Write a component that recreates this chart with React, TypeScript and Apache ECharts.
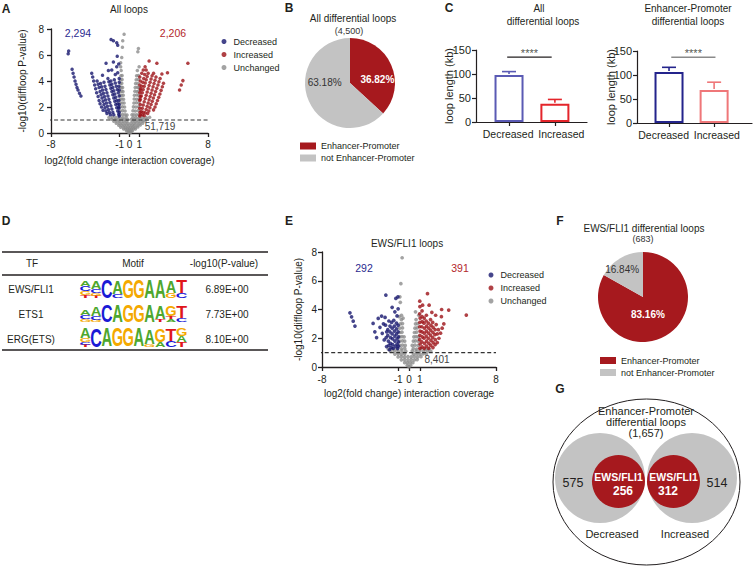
import React, { useEffect, useRef } from "react";
import * as echarts from "echarts";

const FONT = "'Liberation Sans', Arial, Helvetica, sans-serif";
const INK = "#231f20";
const NAVY = "#16166e";
const CRIMSON = "#9c1216";
const DOT_GRAY = "#8c8c8c";
const PIE_RED = "#a6191e";
const PIE_GRAY = "#c3c3c3";
const LOGO_COLORS: Record<string, string> = { A: "#4ea72e", C: "#1a1ad6", G: "#f4a900", T: "#e0161b" };
const LOGO_INK_W: Record<string, number> = { A: 0.7, C: 0.64, G: 0.7, T: 0.58 };

// ---------- shared ----------
const STATUS = ["Decreased", "Increased", "Unchanged"];
const VOLCANO_TICKS = [-8, -1, 0, 1, 8];
const P_THRESHOLD = 1;

// ---------- Panel A: all loops ----------
const A_COUNTS = ["2,294", "2,206", "51,719"];
const A_DECREASED: number[][] = [
  [-6.2, 6.3], [-6.25, 6.1],
  [-5.85, 4.9], [-5.75, 4.6], [-5.65, 4.3], [-5.55, 4.0], [-5.45, 3.75], [-5.35, 3.5], [-5.25, 3.3], [-5.1, 3.05], [-4.95, 2.85],
  [-3.85, 4.6], [-3.75, 4.3], [-3.65, 4.0], [-3.55, 3.7], [-3.45, 3.4], [-3.35, 3.1], [-3.2, 2.8], [-3.1, 2.5], [-3.0, 2.25], [-2.85, 2.0], [-2.7, 1.75],
  [-3.3, 4.0], [-3.2, 3.75], [-3.1, 3.5], [-3.0, 3.2], [-2.9, 2.95], [-2.8, 2.7], [-2.7, 2.45], [-2.6, 2.2], [-2.5, 1.95], [-2.4, 1.7], [-2.3, 1.5],
  [-2.95, 3.8], [-2.85, 3.55], [-2.75, 3.3], [-2.65, 3.05], [-2.55, 2.8], [-2.45, 2.55], [-2.35, 2.3], [-2.25, 2.05], [-2.15, 1.8], [-2.05, 1.6], [-1.95, 1.4],
  [-2.6, 3.9], [-2.5, 3.6], [-2.4, 3.35], [-2.3, 3.1], [-2.2, 2.85], [-2.1, 2.6], [-2.0, 2.35], [-1.9, 2.1], [-1.8, 1.85], [-1.7, 1.6], [-1.6, 1.4],
  [-2.2, 4.2], [-2.1, 3.95], [-2.0, 3.7], [-1.9, 3.45], [-1.8, 3.2], [-1.7, 2.95], [-1.6, 2.7], [-1.5, 2.45], [-1.4, 2.2], [-1.3, 1.95], [-1.2, 1.7], [-1.1, 1.45],
  [-1.9, 4.0], [-1.8, 3.75], [-1.7, 3.5], [-1.6, 3.25], [-1.5, 3.0], [-1.4, 2.75], [-1.3, 2.5], [-1.2, 2.25], [-1.1, 2.0],
  [-1.55, 4.1], [-1.45, 3.85], [-1.35, 3.6], [-1.25, 3.35], [-1.15, 3.1], [-1.05, 2.85],
  [-1.05, 1.3], [-1.05, 1.6], [-1.08, 1.9], [-1.05, 2.2], [-1.08, 2.5], [-1.05, 3.3], [-1.08, 3.6], [-1.05, 3.9], [-1.05, 4.2],
  [-1.88, 7.2], [-1.64, 7.1], [-1.3, 6.95], [-1.2, 6.75], [-2.39, 5.36], [-1.64, 5.46], [-1.3, 5.1], [-1.81, 4.85], [-1.2, 4.64],
  [-2.15, 4.8], [-2.75, 4.45], [-1.45, 4.5], [-1.1, 5.3], [-1.25, 5.9],
];
const A_INCREASED: number[][] = [
  [5.95, 5.36], [5.44, 4.03], [5.27, 3.69], [5.1, 3.3],
  [3.87, 4.64], [3.3, 4.54], [2.79, 5.36], [2.0, 5.54], [1.59, 5.1], [1.4, 4.85], [1.25, 4.6], [2.45, 4.6], [1.7, 4.85],
  [3.46, 3.82], [3.35, 3.55], [3.22, 3.28], [3.1, 3.0], [2.98, 2.75], [2.85, 2.5], [2.72, 2.25], [2.6, 2.0], [2.45, 1.78],
  [3.12, 4.2], [3.0, 3.95], [2.9, 3.7], [2.78, 3.45], [2.66, 3.2], [2.55, 2.95], [2.43, 2.7], [2.32, 2.45], [2.2, 2.2], [2.08, 1.95], [1.97, 1.7], [1.85, 1.5],
  [2.7, 4.3], [2.6, 4.05], [2.5, 3.8], [2.4, 3.55], [2.3, 3.3], [2.2, 3.05], [2.1, 2.8], [2.0, 2.55], [1.9, 2.3], [1.8, 2.05], [1.7, 1.8], [1.6, 1.55], [1.5, 1.35],
  [2.3, 4.4], [2.2, 4.15], [2.1, 3.9], [2.0, 3.65], [1.9, 3.4], [1.8, 3.15], [1.7, 2.9], [1.6, 2.65], [1.5, 2.4], [1.4, 2.15], [1.3, 1.9], [1.2, 1.65], [1.1, 1.4],
  [1.9, 4.6], [1.8, 4.35], [1.7, 4.1], [1.6, 3.85], [1.5, 3.6], [1.4, 3.35], [1.3, 3.1], [1.2, 2.85], [1.1, 2.6],
  [1.55, 4.5], [1.45, 4.2], [1.35, 3.9], [1.25, 3.6], [1.15, 3.3], [1.3, 1.4], [1.4, 1.6],
  [1.05, 1.3], [1.08, 1.6], [1.05, 1.9], [1.1, 2.2], [1.05, 2.5], [1.1, 2.8], [1.05, 3.1], [1.1, 3.4], [1.05, 3.7], [1.1, 4.0], [1.05, 4.3],
];
const A_UNCHANGED: number[][] = [
  [-0.1, 0.05], [0.05, 0.03], [0.15, 0.08],
  [-0.3, 0.15], [-0.15, 0.15], [0, 0.18], [0.15, 0.15], [0.3, 0.17],
  [-0.6, 0.3], [-0.4, 0.3], [-0.2, 0.32], [0, 0.3], [0.2, 0.3], [0.4, 0.32], [0.6, 0.3],
  [-0.9, 0.45], [-0.65, 0.47], [-0.4, 0.45], [-0.15, 0.46], [0.1, 0.45], [0.35, 0.47], [0.6, 0.45], [0.85, 0.46],
  [-1.1, 0.6], [-0.85, 0.62], [-0.55, 0.6], [-0.3, 0.62], [0, 0.6], [0.3, 0.6], [0.55, 0.62], [0.85, 0.6], [1.1, 0.62],
  [-1.35, 0.75], [-1.05, 0.76], [-0.75, 0.75], [-0.45, 0.77], [-0.15, 0.75], [0.15, 0.76], [0.45, 0.75], [0.75, 0.77], [1.05, 0.75], [1.35, 0.76],
  [-1.6, 0.9], [-1.3, 0.92], [-1.0, 0.9], [-0.65, 0.91], [-0.3, 0.9], [0.3, 0.92], [0.6, 0.9], [0.95, 0.91], [1.3, 0.9], [1.6, 0.92],
  [-1.85, 1.05], [-1.5, 1.06], [-1.15, 1.05], [-0.8, 1.07], [-0.5, 1.05], [-0.2, 1.06], [0.2, 1.05], [0.5, 1.06], [0.8, 1.05], [1.15, 1.07], [1.5, 1.05], [1.8, 1.06],
  [-2.1, 1.2], [-1.75, 1.22], [-1.4, 1.2], [-1.05, 1.21], [-0.7, 1.2], [-0.35, 1.22], [0.35, 1.2], [0.65, 1.21], [1.0, 1.2], [1.35, 1.22], [1.7, 1.2], [2.05, 1.21],
  [-0.95, 1.4], [-0.7, 1.42], [-0.45, 1.4], [-0.25, 1.38], [0.25, 1.4], [0.45, 1.41], [0.7, 1.4], [0.95, 1.42],
  [-0.95, 1.7], [-0.7, 1.72], [-0.45, 1.7], [0.35, 1.71], [0.6, 1.7], [0.9, 1.72],
  [-0.95, 2.0], [-0.72, 2.02], [-0.5, 2.0], [0.4, 2.01], [0.65, 2.0], [0.92, 2.02],
  [-0.95, 2.3], [-0.75, 2.31], [-0.55, 2.3], [0.45, 2.3], [0.7, 2.32], [0.95, 2.3],
  [-0.95, 2.6], [-0.78, 2.62], [-0.6, 2.6], [0.48, 2.61], [0.72, 2.6], [0.95, 2.62],
  [-0.95, 2.9], [-0.8, 2.91], [-0.63, 2.9], [0.5, 2.9], [0.75, 2.92], [0.95, 2.9],
  [-0.95, 3.2], [-0.8, 3.22], [-0.66, 3.2], [0.55, 3.21], [0.78, 3.2], [0.95, 3.22],
  [-0.95, 3.5], [-0.82, 3.51], [-0.7, 3.5], [0.58, 3.5], [0.8, 3.52], [0.95, 3.5],
  [-0.92, 3.8], [-0.78, 3.82], [0.62, 3.8], [0.85, 3.81],
  [-0.9, 4.1], [-0.75, 4.12], [0.68, 4.1], [0.9, 4.11],
  [-0.88, 4.4], [-0.75, 4.42], [0.72, 4.4], [0.92, 4.42],
  [-0.85, 4.8], [0.8, 4.8], [-0.9, 5.1], [0.98, 5.1],
  [-0.9, 5.4], [-0.79, 5.8], [-0.72, 6.6], [-0.69, 7.1], [-0.55, 7.6], [0.91, 6.5], [0.85, 6.25],
];

// ---------- Panel E: EWS/FLI1 loops ----------
const E_COUNTS = ["292", "391", "8,401"];
const E_DECREASED: number[][] = [
  [-5.43, 3.77], [-5.28, 3.49], [-5.13, 3.19], [-4.97, 2.85],
  [-2.13, 5.0], [-1.21, 4.77], [-1.02, 4.88], [-1.0, 4.05], [-1.3, 3.84], [-1.55, 4.15], [-1.1, 3.55],
  [-3.3, 3.03], [-3.14, 2.45], [-2.98, 2.05], [-2.83, 3.38], [-2.52, 3.54], [-2.67, 2.76], [-2.46, 2.34], [-2.28, 1.88],
  [-2.16, 2.91], [-2.06, 1.42], [-2.35, 3.0], [-2.2, 3.45],
  [-1.95, 2.6], [-1.95, 2.2], [-1.9, 1.8], [-1.85, 1.5],
  [-1.75, 2.85], [-1.75, 2.45], [-1.7, 2.05], [-1.7, 1.65], [-1.65, 1.35],
  [-1.55, 2.7], [-1.55, 2.3], [-1.5, 1.95], [-1.5, 1.55], [-1.45, 1.3],
  [-1.35, 2.85], [-1.35, 2.5], [-1.3, 2.15], [-1.3, 1.8], [-1.25, 1.45],
  [-1.15, 2.65], [-1.15, 2.3], [-1.1, 1.95], [-1.1, 1.6], [-1.05, 1.3],
  [-1.0, 2.9], [-1.0, 2.45], [-0.97, 2.1], [-0.97, 1.75], [-0.97, 1.45],
  [-1.85, 3.2], [-1.6, 3.1], [-1.4, 3.25], [-1.15, 3.05], [-2.05, 2.45], [-2.1, 2.05], [-1.8, 1.2],
];
const E_INCREASED: number[][] = [
  [5.27, 3.61], [3.65, 3.96], [3.0, 4.0], [1.7, 5.1], [1.85, 4.3], [0.99, 4.58], [1.25, 4.3], [1.0, 4.2], [2.1, 3.8], [2.45, 3.6],
  [2.98, 3.5], [3.2, 3.0], [3.05, 2.7], [2.9, 2.35], [2.75, 2.0], [2.6, 1.7],
  [1.0, 1.3], [1.02, 1.6], [0.98, 1.9], [1.0, 2.2], [1.02, 2.5], [0.98, 2.8], [1.0, 3.1], [1.02, 3.4], [0.98, 3.7],
  [1.2, 1.4], [1.18, 1.75], [1.22, 2.1], [1.2, 2.45], [1.18, 2.8], [1.22, 3.15], [1.2, 3.5], [1.2, 3.9],
  [1.4, 1.3], [1.42, 1.65], [1.38, 2.0], [1.4, 2.35], [1.42, 2.7], [1.38, 3.05], [1.4, 3.4],
  [1.6, 1.45], [1.62, 1.8], [1.58, 2.15], [1.6, 2.5], [1.62, 2.85], [1.58, 3.2], [1.6, 3.6],
  [1.8, 1.3], [1.82, 1.65], [1.78, 2.0], [1.8, 2.35], [1.82, 2.7], [1.78, 3.05],
  [2.0, 1.5], [2.02, 1.85], [1.98, 2.2], [2.0, 2.55], [2.02, 2.9], [1.98, 3.3],
  [2.2, 1.35], [2.22, 1.7], [2.18, 2.05], [2.2, 2.4], [2.22, 2.75], [2.18, 3.1],
  [2.4, 1.55], [2.42, 1.9], [2.38, 2.25], [2.4, 2.6], [2.5, 2.95], [2.6, 2.3], [2.7, 2.6],
];
const E_UNCHANGED: number[][] = [
  [0, 0.03], [-0.15, 0.12], [0.15, 0.12],
  [-0.4, 0.3], [-0.15, 0.3], [0.1, 0.32], [0.35, 0.3],
  [-0.7, 0.5], [-0.4, 0.52], [-0.1, 0.5], [0.2, 0.52], [0.5, 0.5], [0.75, 0.52],
  [-1.0, 0.7], [-0.7, 0.72], [-0.4, 0.7], [-0.1, 0.72], [0.2, 0.7], [0.5, 0.72], [0.8, 0.7], [1.1, 0.72],
  [-1.3, 0.9], [-1.0, 0.92], [-0.7, 0.9], [-0.4, 0.92], [0.4, 0.9], [0.7, 0.92], [1.0, 0.9], [1.3, 0.92], [1.6, 0.9],
  [-1.7, 1.1], [-1.35, 1.12], [-1.0, 1.1], [-0.65, 1.12], [-0.3, 1.1], [0.3, 1.12], [0.65, 1.1], [1.0, 1.12], [1.35, 1.1], [1.7, 1.12], [2.0, 1.1],
  [-1.9, 1.25], [-1.5, 1.27], [-1.1, 1.25], [-0.7, 1.27], [-0.4, 1.3], [0.4, 1.28], [0.7, 1.25], [1.1, 1.27], [1.5, 1.25], [1.85, 1.27],
  [-0.85, 1.5], [-0.6, 1.52], [-0.35, 1.5], [0.3, 1.5], [0.55, 1.52], [0.85, 1.5],
  [-0.85, 1.8], [-0.6, 1.82], [-0.4, 1.8], [0.4, 1.8], [0.6, 1.82], [0.85, 1.8],
  [-0.85, 2.1], [-0.65, 2.12], [-0.45, 2.1], [0.45, 2.1], [0.65, 2.12], [0.85, 2.1],
  [-0.85, 2.4], [-0.65, 2.42], [0.5, 2.4], [0.7, 2.42],
  [-0.85, 2.7], [-0.6, 2.72], [0.55, 2.7], [0.75, 2.72],
  [-0.8, 3.0], [-0.6, 3.02], [0.6, 3.0], [0.8, 3.02],
  [-0.7, 3.3], [-0.55, 3.4], [0.65, 3.3], [0.6, 3.84],
  [-0.69, 3.6], [-0.84, 4.88], [-0.75, 5.8], [-0.63, 7.6], [-0.8, 4.5], [0.9, 3.6], [-0.9, 3.5],
];

// ---------- Panels B & F: pies ----------
const EP_NAMES = ["Enhancer-Promoter", "not Enhancer-Promoter"];
const B_VALUES = [1657, 2843];
const F_VALUES = [568, 115];
const B_TOTAL = "(4,500)";
const F_TOTAL = "(683)";

// ---------- Panel C: loop length bars ----------
const C_CATEGORIES = ["Decreased", "Increased"];
const C_ALL_MEAN = [98, 38];
const C_ALL_ERR = [7, 9];
const C_EP_MEAN = [106, 69];
const C_EP_ERR = [10, 16];
const C_SIG = "****";

// ---------- Panel D: motif table ----------
const TABLE_HEADER = ["TF", "Motif", "-log10(P-value)"];
const TF_NAMES = ["EWS/FLI1", "ETS1", "ERG(ETS)"];
const TF_PVALUES = ["6.89E+00", "7.73E+00", "8.10E+00"];
// each column lists letters top to bottom with their stack height (px)
const MOTIFS: [string, number][][][] = [
  [
    [["A", 5], ["C", 5], ["G", 4], ["T", 3]],
    [["A", 8], ["C", 4], ["G", 3], ["T", 2]],
    [["C", 18]],
    [["A", 13], ["C", 4]],
    [["G", 18]],
    [["G", 18]],
    [["A", 18]],
    [["A", 18]],
    [["A", 12], ["G", 5]],
    [["T", 13], ["C", 5]],
  ],
  [
    [["A", 5], ["C", 4], ["G", 3]],
    [["A", 9], ["C", 4], ["G", 2]],
    [["C", 17]],
    [["A", 17]],
    [["G", 17]],
    [["G", 17]],
    [["A", 17]],
    [["A", 13], ["T", 3]],
    [["G", 11], ["T", 3], ["A", 3]],
    [["T", 12], ["C", 4]],
  ],
  [
    [["A", 10], ["G", 4], ["C", 3], ["T", 2]],
    [["C", 19]],
    [["A", 19]],
    [["G", 19]],
    [["G", 19]],
    [["A", 19]],
    [["A", 15], ["G", 2]],
    [["G", 13], ["A", 5]],
    [["T", 12], ["C", 6]],
    [["G", 8], ["A", 6], ["T", 5]],
  ],
];

// ---------- Panel G: Venn ----------
const VENN_TITLE = ["Enhancer-Promoter", "differential loops", "(1,657)"];
const VENN_ONLY = [575, 514];
const VENN_EWS = [256, 312];
const VENN_LABEL = "EWS/FLI1";

function txt(text: string, x: number, y: number, o: any = {}) {
  return {
    type: "text",
    x,
    y,
    silent: true,
    z: 10,
    style: {
      text,
      fill: o.fill || INK,
      fontFamily: FONT,
      fontSize: o.size || 10,
      fontWeight: o.weight || "normal",
      align: o.align || "center",
      verticalAlign: "middle",
    },
  };
}

function hline(x1: number, x2: number, y: number, w: number) {
  return { type: "line", silent: true, shape: { x1, y1: y, x2, y2: y }, style: { stroke: INK, lineWidth: w } };
}

function logoElements(motif: [string, number][][], x0: number, baseline: number, colW: number) {
  const els: any[] = [];
  motif.forEach((col, i) => {
    let yb = baseline;
    for (let k = col.length - 1; k >= 0; k--) {
      const [letter, h] = col[k];
      els.push({
        type: "text",
        silent: true,
        x: x0 + (i + 0.5) * colW,
        y: yb - h / 2,
        scaleX: (colW * 0.96) / (LOGO_INK_W[letter] * 20),
        scaleY: h / (0.716 * 20),
        style: {
          text: letter,
          fill: LOGO_COLORS[letter],
          fontFamily: FONT,
          fontSize: 20,
          fontWeight: "bold",
          align: "center",
          verticalAlign: "middle",
        },
      });
      yb -= h;
    }
  });
  return els;
}

const axisText = { color: INK, fontFamily: FONT };

function volcanoAxes(gi: number, xName: string, yName: string, labelMargins: number[], nameGaps: number[]) {
  const line = { show: true, onZero: false, lineStyle: { color: INK, width: 1.3 } };
  const tick = { show: true, inside: false, length: 4, lineStyle: { color: INK, width: 1.3 } };
  return {
    x: {
      gridIndex: gi,
      type: "value",
      min: -8,
      max: 8,
      axisLine: line,
      axisTick: { ...tick, customValues: VOLCANO_TICKS },
      axisLabel: { ...axisText, fontSize: 10, margin: labelMargins[0], customValues: VOLCANO_TICKS, showMinLabel: true, showMaxLabel: true, hideOverlap: false },
      splitLine: { show: false },
      name: xName,
      nameLocation: "middle",
      nameGap: nameGaps[0],
      nameMoveOverlap: false,
      nameTextStyle: { ...axisText, fontSize: 10 },
    },
    y: {
      gridIndex: gi,
      type: "value",
      min: 0,
      max: 8,
      interval: 2,
      axisLine: line,
      axisTick: tick,
      axisLabel: { ...axisText, fontSize: 10, margin: labelMargins[1], showMinLabel: true, showMaxLabel: true },
      splitLine: { show: false },
      name: yName,
      nameLocation: "middle",
      nameGap: nameGaps[1],
      nameMoveOverlap: false,
      nameTextStyle: { ...axisText, fontSize: 10 },
    },
  };
}

// labelAt: where each category name sits along the axis (category units)
function barAxes(gi: number, min: number, max: number, nameGap: number, labelAt: number[]) {
  const line = { show: true, onZero: false, lineStyle: { color: INK, width: 1.2 } };
  const tick = { show: true, inside: false, length: 4, lineStyle: { color: INK, width: 1.2 } };
  return {
    x: {
      gridIndex: gi,
      type: "value",
      min,
      max,
      axisLine: line,
      axisTick: { ...tick, customValues: [1, 2] },
      axisLabel: {
        ...axisText,
        fontSize: 10.5,
        margin: 6,
        customValues: labelAt,
        showMinLabel: true,
        showMaxLabel: true,
        hideOverlap: false,
        formatter: (v: any) => C_CATEGORIES[Math.round(Number(v)) - 1] || "",
      },
      splitLine: { show: false },
    },
    y: {
      gridIndex: gi,
      type: "value",
      min: 0,
      max: 150,
      interval: 50,
      axisLine: line,
      axisTick: tick,
      axisLabel: { ...axisText, fontSize: 11, margin: 5, showMinLabel: true, showMaxLabel: true },
      splitLine: { show: false },
      name: "loop length (kb)",
      nameLocation: "middle",
      nameGap,
      nameMoveOverlap: false,
      nameTextStyle: { ...axisText, fontSize: 11 },
    },
  };
}

function volcanoSeries(axis: number, gray: number[][], blue: number[][], red: number[][], size: number) {
  const base = { type: "scatter", xAxisIndex: axis, yAxisIndex: axis, symbolSize: size, silent: true };
  return [
    { ...base, name: STATUS[2], data: gray, itemStyle: { color: DOT_GRAY } },
    { ...base, name: STATUS[0], data: blue, itemStyle: { color: NAVY } },
    { ...base, name: STATUS[1], data: red, itemStyle: { color: CRIMSON } },
    {
      type: "line",
      xAxisIndex: axis,
      yAxisIndex: axis,
      data: [[-8.35, P_THRESHOLD], [8, P_THRESHOLD]],
      showSymbol: false,
      symbol: "none",
      clip: false,
      silent: true,
      z: 5,
      lineStyle: { color: "#333", width: 1.2, type: [4, 2.5] },
    },
  ];
}

function barSeries(axis: number, mean: number[], err: number[], borders: string[], sigY: number, sigX: number[], sigColor: string) {
  return [
    {
      type: "bar",
      xAxisIndex: axis,
      yAxisIndex: axis,
      barWidth: 29,
      silent: true,
      data: mean.map((m, i) => ({ value: [i + 1, m], itemStyle: { color: "#fff", borderColor: borders[i], borderWidth: 2 } })),
    },
    {
      type: "custom",
      xAxisIndex: axis,
      yAxisIndex: axis,
      silent: true,
      z: 3,
      data: mean.map((m, i) => [i + 1, m, err[i]]),
      renderItem: (params: any, api: any) => {
        const x = api.value(0);
        const m = api.value(1);
        const e = api.value(2);
        const base = api.coord([x, m]);
        const top = api.coord([x, m + e]);
        const color = borders[params.dataIndex];
        return {
          type: "group",
          children: [
            { type: "line", shape: { x1: base[0], y1: base[1] - 1, x2: top[0], y2: top[1] }, style: { stroke: color, lineWidth: 1.6 } },
            { type: "line", shape: { x1: top[0] - 7, y1: top[1], x2: top[0] + 7, y2: top[1] }, style: { stroke: color, lineWidth: 1.6 } },
          ],
        };
      },
    },
    {
      type: "line",
      xAxisIndex: axis,
      yAxisIndex: axis,
      data: [[sigX[0], sigY], [sigX[1], sigY]],
      symbol: "none",
      showSymbol: false,
      silent: true,
      lineStyle: { color: sigColor, width: 1.3 },
    },
    {
      type: "scatter",
      xAxisIndex: axis,
      yAxisIndex: axis,
      symbolSize: 0,
      silent: true,
      data: [[(sigX[0] + sigX[1]) / 2, sigY]],
      label: { show: true, position: "top", distance: -1, formatter: C_SIG, ...axisText, fontSize: 11 },
    },
  ];
}

function pieSeries(center: number[], values: number[], shifts: number[][]) {
  return {
    type: "pie",
    center,
    radius: 45,
    startAngle: 90,
    clockwise: true,
    silent: true,
    percentPrecision: 2,
    labelLine: { show: false },
    label: { show: true, position: "inside", formatter: "{d}%", fontFamily: FONT, fontSize: 10 },
    labelLayout: (p: any) => ({ dx: shifts[p.dataIndex][0], dy: shifts[p.dataIndex][1] }),
    data: values.map((v, i) => ({
      name: EP_NAMES[i],
      value: v,
      itemStyle: { color: i === 0 ? PIE_RED : PIE_GRAY },
      label: i === 0 ? { color: "#fff", fontWeight: "bold" } : { color: "#333" },
    })),
  };
}

function buildOption() {
  const a = volcanoAxes(0, "log2(fold change interaction coverage)", "-log10(diffloop P-value)", [6, 7], [22, 24]);
  const e = volcanoAxes(3, "log2(fold change) interaction coverage", "-log10(diffloop P-value)", [7, 5], [21, 19]);
  const c1 = barAxes(1, 0.28, 2.7, 22, [0.98, 2.14]);
  const c2 = barAxes(2, 0.29, 2.84, 21, [0.88, 2.06]);

  const scatterLegend = (left: number, top: number) => ({
    left,
    top,
    orient: "vertical",
    icon: "circle",
    itemWidth: 9,
    itemHeight: 5,
    itemGap: 2,
    selectedMode: false,
    data: STATUS,
    textStyle: { ...axisText, fontSize: 9, lineHeight: 11 },
  });
  const pieLegend = (left: number, top: number) => ({
    left,
    top,
    orient: "vertical",
    icon: "rect",
    itemWidth: 16,
    itemHeight: 7,
    itemGap: 1,
    selectedMode: false,
    data: EP_NAMES,
    textStyle: { ...axisText, fontSize: 9, lineHeight: 11 },
  });

  const graphics: any[] = [
    // panel letters
    txt("A", 6, 9, { size: 12, weight: "bold" }),
    txt("B", 289, 7.5, { size: 12, weight: "bold" }),
    txt("C", 449, 7.5, { size: 12, weight: "bold" }),
    txt("D", 6, 221, { size: 12, weight: "bold" }),
    txt("E", 289, 221, { size: 12, weight: "bold" }),
    txt("F", 560, 221, { size: 12, weight: "bold" }),
    txt("G", 560, 389, { size: 12, weight: "bold" }),
    // A
    txt("All loops", 129, 9),
    txt(A_COUNTS[0], 78, 33, { fill: "#2b2b8f", size: 10.5 }),
    txt(A_COUNTS[1], 173, 33, { fill: "#b3262a", size: 10.5 }),
    txt(A_COUNTS[2], 160, 126, { fill: "#444" }),
    // B
    txt("All differential loops", 353, 18),
    txt(B_TOTAL, 349, 31, { size: 9, fill: "#333" }),
    // C
    txt("All", 539, 8),
    txt("differential loops", 543, 21),
    txt("Enhancer-Promoter", 688, 8),
    txt("differential loops", 688, 21),
    // E
    txt("EWS/FLI1 loops", 407, 243),
    txt(E_COUNTS[0], 364, 268, { fill: "#2b2b8f", size: 10.5 }),
    txt(E_COUNTS[1], 460, 268, { fill: "#b3262a", size: 10.5 }),
    txt(E_COUNTS[2], 437, 359, { fill: "#444" }),
    // F
    txt("EWS/FLI1 differential loops", 644, 228),
    txt(F_TOTAL, 643, 239, { size: 9, fill: "#333" }),
    // D table
    hline(2, 268, 252, 1.5),
    hline(2, 268, 275, 1.3),
    hline(2, 268, 350, 1.5),
    txt(TABLE_HEADER[0], 32, 263),
    txt(TABLE_HEADER[1], 133, 263),
    txt(TABLE_HEADER[2], 224, 263),
  ];
  TF_NAMES.forEach((n, i) => {
    graphics.push(txt(n, 31, 289 + i * 25));
    graphics.push(txt(TF_PVALUES[i], 227, 289 + i * 25));
  });
  const baselines = [298, 322, 347];
  MOTIFS.forEach((m, i) => graphics.push(...logoElements(m, 80, baselines[i], 10.7)));

  // G: Venn diagram
  graphics.push(
    { type: "ellipse", silent: true, shape: { cx: 646.5, cy: 482, rx: 93.5, ry: 83 }, style: { fill: "#fff", stroke: INK, lineWidth: 1 } },
    { type: "circle", silent: true, shape: { cx: 600, cy: 478, r: 45 }, style: { fill: PIE_GRAY } },
    { type: "circle", silent: true, shape: { cx: 692, cy: 478, r: 45 }, style: { fill: PIE_GRAY } },
    { type: "circle", silent: true, shape: { cx: 618.5, cy: 481.5, r: 26.5 }, style: { fill: PIE_RED } },
    { type: "circle", silent: true, shape: { cx: 673.5, cy: 481.5, r: 26.5 }, style: { fill: PIE_RED } },
    txt(VENN_TITLE[0], 646, 411, { size: 11 }),
    txt(VENN_TITLE[1], 646, 422, { size: 11 }),
    txt(VENN_TITLE[2], 646, 433, { size: 11 }),
    txt(String(VENN_ONLY[0]), 573, 483, { size: 12.5 }),
    txt(String(VENN_ONLY[1]), 717, 483, { size: 12.5 }),
    txt(VENN_LABEL, 618.5, 477, { size: 10.5, weight: "bold", fill: "#fff" }),
    txt(String(VENN_EWS[0]), 623, 491, { size: 12, weight: "bold", fill: "#fff" }),
    txt(VENN_LABEL, 673.5, 477, { size: 10.5, weight: "bold", fill: "#fff" }),
    txt(String(VENN_EWS[1]), 668, 491, { size: 12, weight: "bold", fill: "#fff" }),
    txt(C_CATEGORIES[0], 612, 534, { size: 11 }),
    txt(C_CATEGORIES[1], 685, 534, { size: 11 })
  );

  return {
    animation: false,
    backgroundColor: "#fff",
    textStyle: { fontFamily: FONT },
    grid: [
      { left: 51, top: 29, width: 157, height: 104, containLabel: false, outerBoundsMode: "none" },
      { left: 476, top: 50, width: 111, height: 72, containLabel: false, outerBoundsMode: "none" },
      { left: 637, top: 51, width: 115, height: 72, containLabel: false, outerBoundsMode: "none" },
      { left: 322, top: 252, width: 174, height: 115, containLabel: false, outerBoundsMode: "none" },
    ],
    xAxis: [a.x, c1.x, c2.x, e.x],
    yAxis: [a.y, c1.y, c2.y, e.y],
    legend: [scatterLegend(216.5, 31), scatterLegend(483.5, 264.5), pieLegend(295, 135.5), pieLegend(595, 350)],
    series: [
      ...volcanoSeries(0, A_UNCHANGED, A_DECREASED, A_INCREASED, 3.5),
      ...volcanoSeries(3, E_UNCHANGED, E_DECREASED, E_INCREASED, 3.7),
      ...barSeries(1, C_ALL_MEAN, C_ALL_ERR, ["#5a5ab4", "#e4252b"], 135, [0.96, 1.93], INK),
      ...barSeries(2, C_EP_MEAN, C_EP_ERR, ["#24248c", "#ef7779"], 137, [1.05, 2.03], "#8a8a8a"),
      pieSeries([350, 83], B_VALUES, [[4, 7], [-2, -11]]),
      pieSeries([643, 297], F_VALUES, [[-8, -5], [-8, -5]]),
    ],
    graphic: { elements: graphics },
  };
}

export default function App() {
  const ref = useRef<HTMLDivElement>(null);
  useEffect(() => {
    if (!ref.current) return;
    const chart = echarts.init(ref.current, null, { renderer: "svg" });
    chart.setOption(buildOption() as any);
    return () => chart.dispose();
  }, []);
  return (
    <div
      ref={ref}
      style={{ position: "absolute", left: 0, top: 0, width: 753, height: 566, background: "#fff" }}
    />
  );
}
